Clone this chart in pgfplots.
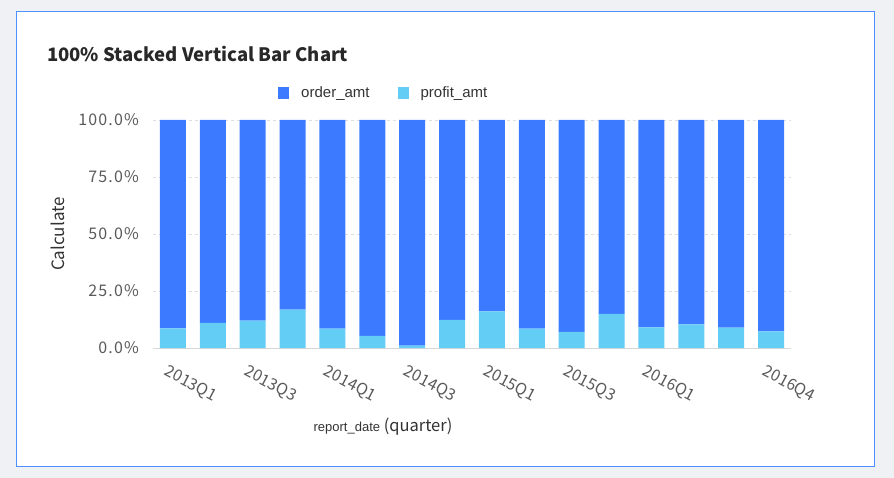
\documentclass[border=0pt]{standalone}
\usepackage{pgfplots}
\pgfplotsset{compat=1.18}
\usepackage{fontspec}
\setmainfont{Liberation Sans}
\newfontfamily\cjk{Noto Sans CJK SC}
\newfontfamily\cjkls{Noto Sans CJK SC}[LetterSpace=7]
\definecolor{bgc}{RGB}{240,241,245}
\definecolor{borderc}{RGB}{74,144,255}
\definecolor{orderc}{RGB}{60,123,255}
\definecolor{profitc}{RGB}{99,205,245}
\definecolor{titlec}{RGB}{40,40,40}
\definecolor{tickc}{RGB}{90,90,90}
\definecolor{labc}{RGB}{51,51,51}
\definecolor{gridc}{RGB}{222,222,222}
\definecolor{axc}{RGB}{215,215,215}
\begin{document}
\begin{tikzpicture}
\fill[bgc] (0,0) rectangle (894pt,-478pt);
\draw[borderc, line width=1.3pt, fill=white] (16.5pt,-11.5pt) rectangle (874.5pt,-466.5pt);
\node[anchor=base west, inner sep=0pt, text=titlec, font=\cjk\bfseries\fontsize{18.5}{22}\selectfont] at (47pt,-61.5pt) {100\% Stacked Vertical Bar Chart};
\begin{axis}[
  at={(153pt,-348pt)}, anchor=south west,
  scale only axis, width=638pt, height=228pt,
  ybar stacked, bar width=26pt,
  xmin=-0.5, xmax=15.5, ymin=0, ymax=100,
  axis x line*=bottom, axis y line*=left,
  x axis line style={draw=axc, line width=1pt, -},
  y axis line style={draw=none},
  ymajorgrids, grid style={dashed, gridc, line width=0.8pt},
  major tick length=0pt,
  ytick={0,25,50,75,100},
  yticklabels={0.0\%,25.0\%,50.0\%,75.0\%,100.0\%},
  yticklabel style={anchor=east, inner sep=0pt, xshift=-14pt, text=tickc, font=\cjkls\fontsize{16}{19}\selectfont},
  xtick={0,2,4,6,8,10,12,15},
  xticklabels={2013Q1,2013Q3,2014Q1,2014Q3,2015Q1,2015Q3,2016Q1,2016Q4},
  xticklabel style={xshift=-4pt, yshift=-16pt, rotate=-28, anchor=north west, inner sep=0pt, text=tickc, font=\cjk\fontsize{16}{19}\selectfont},
  ylabel={Calculate},
  ylabel style={at={(axis description cs:-0.149,0.5)}, anchor=center, text=labc, font=\cjk\fontsize{17}{20}\selectfont},
  xlabel={report\_date {\cjk\fontsize{16.5}{20}\selectfont (quarter)}},
  xlabel style={at={(axis description cs:0.3605,-0.346)}, anchor=center, text=labc, font=\fontsize{13}{16}\selectfont},
  legend columns=2,
  reverse legend,
  legend style={at={(axis description cs:0.196,1.118)}, anchor=west, draw=none, fill=none, inner sep=0pt,
    font=\fontsize{15}{18}\selectfont, text=labc,
    /tikz/every odd column/.append style={column sep=10pt},
    /tikz/every even column/.append style={column sep=26pt}},
  legend cell align=left,
  legend image code/.code={\fill[#1, draw=none] (0pt,-6pt) rectangle (11pt,6pt);},
]
\addplot[fill=profitc, draw=none] coordinates {(0,8.6) (1,11.0) (2,12.0) (3,16.8) (4,8.5) (5,5.3) (6,1.0) (7,12.3) (8,16.1) (9,8.5) (10,7.1) (11,15.0) (12,9.0) (13,10.4) (14,8.9) (15,7.3)};
\addlegendentry{profit\_amt}
\addplot[fill=orderc, draw=none] coordinates {(0,91.4) (1,89.0) (2,88.0) (3,83.2) (4,91.5) (5,94.7) (6,99.0) (7,87.7) (8,83.9) (9,91.5) (10,92.9) (11,85.0) (12,91.0) (13,89.6) (14,91.1) (15,92.7)};
\addlegendentry{order\_amt}
\end{axis}
\end{tikzpicture}
\end{document}
